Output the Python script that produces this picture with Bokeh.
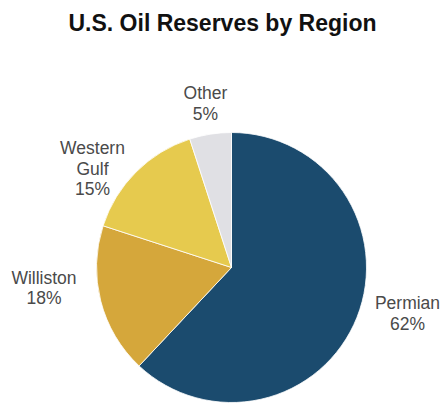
import math
from bokeh.plotting import figure
from bokeh.models import ColumnDataSource, Range1d
from bokeh.core.properties import value
from bokeh.embed import file_html
from bokeh.resources import INLINE

# Data
regions = ["Permian", "Williston", "Western Gulf", "Other"]
shares = [62, 18, 15, 5]
colors = ["#1B4B6E", "#D5A73B", "#E6CA4E", "#E0E0E4"]
title_text = "U.S. Oil Reserves by Region"

# Layout (page pixel coords -> figure coords)
W, H = 443, 407
def fx(px): return px
def fy(py): return H - py

cx, cy, r = fx(231), fy(267), 135

total = sum(shares)
starts, ends = [], []
cum = 0.0
for s in shares:
    starts.append(math.pi / 2 - 2 * math.pi * cum / total)
    cum += s
    ends.append(math.pi / 2 - 2 * math.pi * cum / total)

src = ColumnDataSource(dict(start=starts, end=ends, color=colors,
                            x=[cx] * len(shares), y=[cy] * len(shares)))

p = figure(width=W, height=H, output_backend="svg", toolbar_location=None,
           x_range=Range1d(0, W), y_range=Range1d(0, H), min_border=0)
p.axis.visible = False
p.grid.visible = False
p.outline_line_color = None
p.background_fill_color = "white"
p.border_fill_color = "white"

p.wedge(x="x", y="y", radius=r, start_angle="start", end_angle="end",
        direction="clock", fill_color="color", line_color="white",
        line_width=0.8, source=src)

# Title
p.text(x=[fx(222)], y=[fy(22)], text=[title_text], text_font=value("Liberation Sans"),
       text_font_style="bold", text_font_size="23px", text_color="#111111",
       text_align="center", text_baseline="middle")

# Labels: block centers (page coords)
label_centers = {"Permian": (407, 313), "Williston": (43.5, 287.5),
                 "Western Gulf": (92, 168), "Other": (205, 103)}
label_lines = {"Permian": ["Permian"], "Williston": ["Williston"],
               "Western Gulf": ["Western", "Gulf"], "Other": ["Other"]}
lh = 20.5
xs, ys, ts = [], [], []
for reg, sh in zip(regions, shares):
    lines = label_lines[reg] + [f"{sh}%"]
    bx, by = label_centers[reg]
    n = len(lines)
    for i, t in enumerate(lines):
        xs.append(fx(bx))
        ys.append(fy(by + (i - (n - 1) / 2) * lh))
        ts.append(t)
p.text(x=xs, y=ys, text=ts, text_font=value("Liberation Sans"),
       text_font_size="17.5px", text_color="#4a4a4a",
       text_align="center", text_baseline="middle")

open("out.html", "w").write(file_html(p, INLINE))
